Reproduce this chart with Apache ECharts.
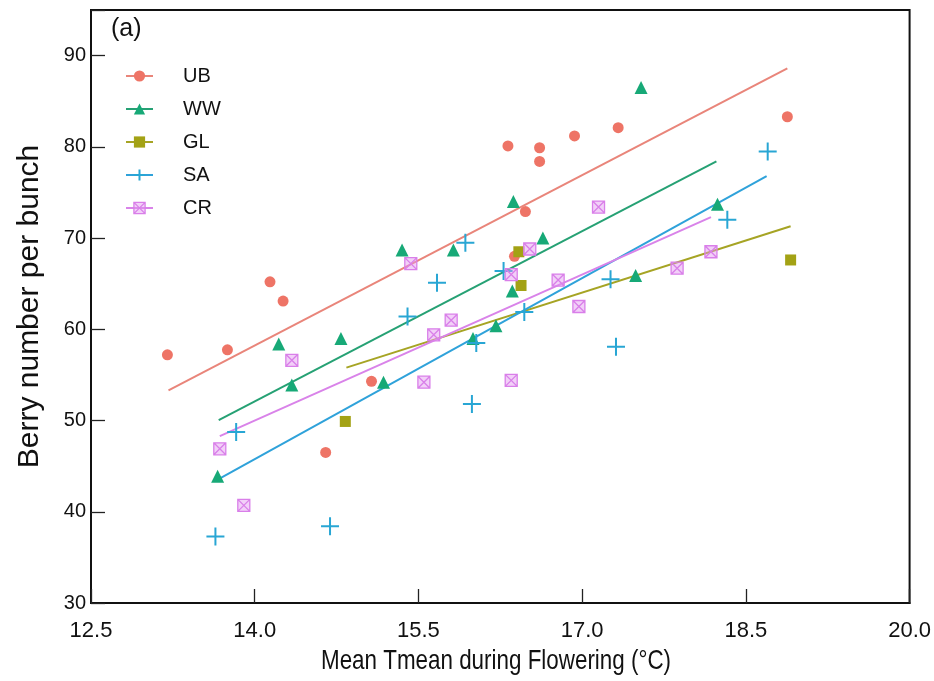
<!DOCTYPE html>
<html>
<head>
<meta charset="utf-8">
<script src="https://cdn.jsdelivr.net/npm/echarts@6/dist/echarts.min.js"></script>
<style>
  html, body { margin: 0; padding: 0; background: #fff; }
  #chart { width: 934px; height: 681px; }
</style>
</head>
<body>
<div id="chart"></div>
<script>
// Mean temperature during flowering (°C) and berry number per bunch, by site
const ubTemp  = [13.20, 13.75, 14.14, 14.26, 14.65, 15.07, 16.32, 16.38, 16.48, 16.61, 16.61, 16.93, 17.33, 18.88];
const ubBerry = [57.2, 57.75, 65.2, 63.1, 46.5, 54.3, 80.1, 68.0, 72.9, 79.9, 78.4, 81.2, 82.1, 83.3];

const wwTemp  = [13.66, 14.22, 14.34, 14.79, 15.18, 15.35, 15.82, 16.00, 16.21, 16.36, 16.37, 16.64, 17.49, 17.54, 18.24];
const wwBerry = [43.9, 58.4, 53.9, 59.0, 54.2, 68.7, 68.7, 59.0, 60.4, 64.2, 74.0, 70.0, 65.9, 86.5, 73.7];

const glTemp  = [14.83, 16.42, 16.44, 18.91];
const glBerry = [49.9, 68.5, 64.8, 67.6];

const saTemp  = [13.64, 13.83, 14.69, 15.40, 15.67, 15.93, 15.99, 16.03, 16.28, 16.47, 17.26, 17.31, 18.33, 18.70];
const saBerry = [37.3, 48.75, 38.4, 61.4, 65.1, 69.5, 51.8, 58.5, 66.4, 61.9, 65.5, 58.1, 72.0, 79.5];

const crTemp  = [13.68, 13.90, 14.34, 15.43, 15.55, 15.64, 15.80, 16.35, 16.35, 16.52, 16.78, 16.97, 17.15, 17.87, 18.18];
const crBerry = [46.9, 40.7, 56.6, 67.2, 54.2, 59.4, 61.0, 66.0, 54.4, 68.8, 65.4, 62.5, 73.4, 66.7, 68.5];

// Linear fit lines: end points (temperature, berry number)
const ubFitTemp = [13.21, 18.88], ubFitBerry = [53.3, 88.6];
const wwFitTemp = [13.67, 18.23], wwFitBerry = [50.05, 78.4];
const glFitTemp = [14.84, 18.91], glFitBerry = [55.8, 71.3];
const saFitTemp = [13.64, 18.69], saFitBerry = [43.4, 76.8];
const crFitTemp = [13.68, 18.18], crFitBerry = [48.3, 72.3];

const siteNames = ['UB', 'WW', 'GL', 'SA', 'CR'];
const xTicks = [12.5, 14.0, 15.5, 17.0, 18.5, 20.0];
const yTicks = [30, 40, 50, 60, 70, 80, 90];

const pairs = (xs, ys) => xs.map((x, i) => [x, ys[i]]);

const PLUS = 'path://M5,0L5,10M0,5L10,5';
const BOXX = 'path://M0,0L10,0L10,10L0,10Z M0,0L10,10 M10,0L0,10';

const sites = [
  { name: 'UB', temp: ubTemp, berry: ubBerry, fitT: ubFitTemp, fitB: ubFitBerry,
    symbol: 'circle', size: 11, fill: '#EE7466', stroke: '#EE7466', bw: 0, line: '#E9857A' },
  { name: 'WW', temp: wwTemp, berry: wwBerry, fitT: wwFitTemp, fitB: wwFitBerry,
    symbol: 'triangle', size: 13, fill: '#17A977', stroke: '#17A977', bw: 0, line: '#26A174' },
  { name: 'GL', temp: glTemp, berry: glBerry, fitT: glFitTemp, fitB: glFitBerry,
    symbol: 'rect', size: 11, fill: '#A3A215', stroke: '#A3A215', bw: 0, line: '#A6A424' },
  { name: 'SA', temp: saTemp, berry: saBerry, fitT: saFitTemp, fitB: saFitBerry,
    symbol: PLUS, size: 18, fill: 'rgba(0,0,0,0)', stroke: '#28A6D4', bw: 2, line: '#2FA2DA' },
  { name: 'CR', temp: crTemp, berry: crBerry, fitT: crFitTemp, fitB: crFitBerry,
    symbol: BOXX, size: 12, fill: 'rgba(226,150,240,0.45)', stroke: '#D97FE9', bw: 1.3, line: '#D983E9' }
];

const series = [];
sites.forEach(s => {
  series.push({
    name: s.name + ' fit',
    type: 'line',
    data: pairs(s.fitT, s.fitB),
    showSymbol: false,
    lineStyle: { color: s.line, width: 2 },
    itemStyle: { color: s.line },
    z: 2,
    silent: true
  });
});
sites.forEach(s => {
  series.push({
    name: s.name,
    type: 'line',
    data: pairs(s.temp, s.berry),
    symbol: s.symbol,
    symbolSize: s.size,
    showSymbol: true,
    lineStyle: { opacity: 0, width: 0 },
    itemStyle: { color: s.fill, borderColor: s.stroke, borderWidth: s.bw },
    z: 3
  });
});

const legendData = sites.map(s => ({
  name: s.name,
  itemStyle: { color: s.fill, borderColor: s.stroke, borderWidth: s.bw, opacity: 1 },
  lineStyle: { color: s.line, width: 2, opacity: 1, type: 'solid' }
}));

const FONT = 'Liberation Sans, Arial, sans-serif';

const chart = echarts.init(document.getElementById('chart'), null, { renderer: 'canvas' });
chart.setOption({
  animation: false,
  backgroundColor: '#fff',
  title: {
    text: '(a)',
    left: 111, top: 17, padding: 0,
    textStyle: { fontFamily: FONT, fontWeight: 'normal', fontSize: 25, color: '#111' }
  },
  legend: {
    data: legendData,
    orient: 'vertical',
    left: 125, top: 66, padding: 0,
    itemWidth: 27, itemHeight: 14, itemGap: 13,
    textStyle: { fontFamily: FONT, fontSize: 20, lineHeight: 20, color: '#111', padding: [0, 0, 0, 25] }
  },
  // x-axis title, set in a condensed face
  graphic: [{
    type: 'text',
    x: 496, y: 661,
    scaleX: 0.8,
    style: {
      text: 'Mean Tmean during Flowering (°C)',
      fontFamily: FONT, fontSize: 28, fill: '#111',
      align: 'center', verticalAlign: 'middle'
    }
  }],
  grid: {
    left: 91, right: 24, top: 10, bottom: 78,
    show: true, borderColor: '#111', borderWidth: 2, backgroundColor: '#fff'
  },
  xAxis: {
    type: 'value',
    min: xTicks[0], max: xTicks[xTicks.length - 1], interval: 1.5,
    axisLine: { lineStyle: { color: '#111', width: 2 } },
    axisTick: { inside: true, length: 14, lineStyle: { color: '#222', width: 1.3 } },
    axisLabel: {
      margin: 17,
      fontFamily: FONT, fontSize: 22, color: '#111',
      formatter: v => v.toFixed(1)
    },
    splitLine: { show: false }
  },
  yAxis: {
    type: 'value',
    min: yTicks[0], max: 95, interval: 10,
    name: 'Berry number per bunch',
    nameLocation: 'middle', nameGap: 46,
    nameTextStyle: { fontFamily: FONT, fontSize: 30, color: '#111' },
    axisLine: { lineStyle: { color: '#111', width: 2 } },
    axisTick: { inside: true, length: 14, lineStyle: { color: '#222', width: 1.3 } },
    axisLabel: {
      margin: 5,
      fontFamily: FONT, fontSize: 20, color: '#111',
      formatter: v => (yTicks.indexOf(v) >= 0 ? String(v) : '')
    },
    splitLine: { show: false }
  },
  series: series
});
</script>
</body>
</html>
